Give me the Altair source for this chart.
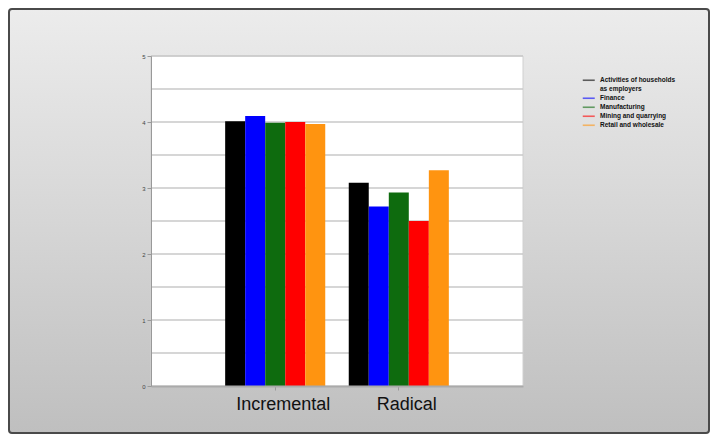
import altair as alt
import pandas as pd

sectors = ["Activities of households as employers", "Finance", "Manufacturing",
           "Mining and quarrying", "Retail and wholesale"]
colors = ["#000000", "#0000ff", "#0e6b0e", "#ff0000", "#ff9410"]
categories = ["Incremental", "Radical"]
incremental = [4.01, 4.09, 3.99, 4.00, 3.97]
radical = [3.08, 2.72, 2.93, 2.50, 3.27]
y_labels = [0, 1, 2, 3, 4, 5]
grid_values = [0.5, 1, 1.5, 2, 2.5, 3, 3.5, 4, 4.5, 5]

W, H = 372, 330
PAD = {"left": 143, "top": 48, "right": 187, "bottom": 48}

rows = []
for s, v in zip(sectors, incremental):
    rows.append({"type": "Incremental", "sector": s, "value": v})
for s, v in zip(sectors, radical):
    rows.append({"type": "Radical", "sector": s, "value": v})
df = pd.DataFrame(rows)

one = pd.DataFrame({"a": [0]})

gradient = alt.Gradient(
    gradient="linear",
    stops=[alt.GradientStop(color="#ececec", offset=0),
           alt.GradientStop(color="#d6d6d6", offset=0.5),
           alt.GradientStop(color="#bfbfbf", offset=1)],
    x1=0, x2=0, y1=0, y2=1,
)

bg = alt.Chart(one).mark_rect(
    color=gradient, stroke="#4a4a4a", strokeWidth=2, cornerRadius=3
).encode(
    x=alt.value(-PAD["left"] + 1), x2=alt.value(W + PAD["right"] - 1),
    y=alt.value(-PAD["top"] + 1), y2=alt.value(H + PAD["bottom"] - 1),
)

plot_bg = alt.Chart(one).mark_rect(
    color="white", stroke="#d0d0d0", strokeWidth=1
).encode(
    x=alt.value(0), x2=alt.value(W), y=alt.value(0), y2=alt.value(H)
)

y_scale = alt.Scale(domain=[0, 5], nice=False, zero=True)
y_axis = alt.Axis(title=None, values=y_labels, grid=False,
                  labelFontSize=6, labelColor="#444444",
                  labelFont="Liberation Sans", tickSize=4,
                  tickColor="#999999", domainColor="#999999",
                  labelPadding=2, zindex=1)

grid = alt.Chart(pd.DataFrame({"g": grid_values})).mark_rule(
    color="#c8c8c8", strokeWidth=1.5
).encode(
    y=alt.Y("g:Q", scale=y_scale, axis=y_axis),
    x=alt.value(0), x2=alt.value(W),
)

bars = alt.Chart(df).mark_bar(width=20).encode(
    x=alt.X("type:N", sort=categories,
            scale=alt.Scale(paddingInner=0.19, paddingOuter=0.6),
            axis=alt.Axis(title=None, labelAngle=0, labelFontSize=18,
                          labelFont="Liberation Sans", labelColor="#111111",
                          labelPadding=5, labelOffset=8, tickSize=4,
                          tickColor="#999999", domainColor="#aaaaaa",
                          domainWidth=2, zindex=1)),
    xOffset=alt.XOffset("sector:N", sort=sectors,
                        scale=alt.Scale(paddingInner=0, paddingOuter=0)),
    y=alt.Y("value:Q", scale=y_scale, axis=y_axis),
    color=alt.Color("sector:N", sort=sectors,
                    scale=alt.Scale(domain=sectors, range=colors),
                    legend=alt.Legend(
                        title=None, orient="none", legendX=434.5, legendY=21,
                        symbolType="M-3,-0.4H3V0.4H-3Z", symbolSize=16,
                        symbolOpacity=0.6, symbolStrokeWidth=0,
                        labelFontSize=6.5, gridAlign="none",
                        labelFont="Liberation Sans", labelFontWeight="bold",
                        labelColor="#111111", labelOffset=8, rowPadding=2,
                        labelLimit=200,
                        labelExpr="datum.label == 'Activities of households as employers' ? ['Activities of households', 'as employers'] : datum.label",
                    )),
)

chart = alt.layer(bg, plot_bg, grid, bars).properties(
    width=W, height=H, padding=PAD,
    autosize=alt.AutoSizeParams(type="none"),
).configure_view(stroke=None)

chart.save("out.html", embed_options={"renderer": "svg", "actions": False})
